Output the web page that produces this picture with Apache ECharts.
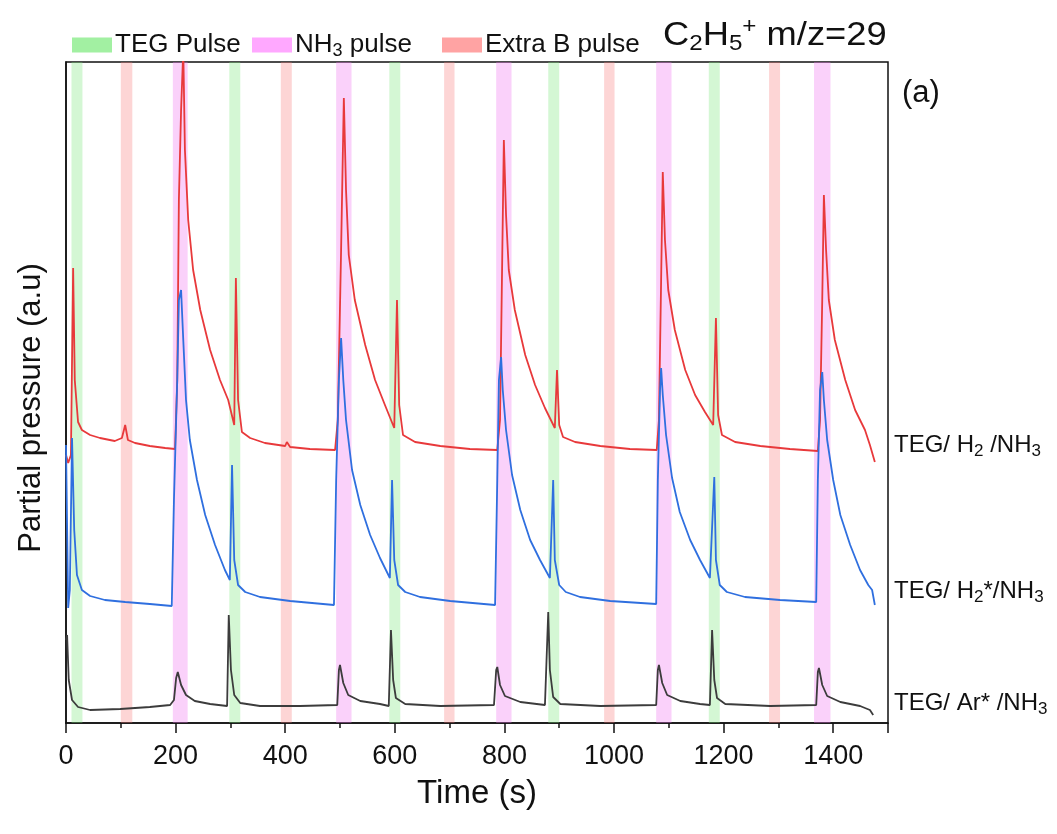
<!DOCTYPE html>
<html>
<head>
<meta charset="utf-8">
<script src="https://cdn.jsdelivr.net/npm/echarts@6/dist/echarts.min.js"></script>
<style>
html,body{margin:0;padding:0;background:#fff;}
#c{width:1057px;height:834px;}
</style>
</head>
<body>
<div id="c"></div>
<script>
// ---- data (time in s, partial pressure in a.u.) ----
var tegPulses = [[10,30],[298,318],[590,610],[880,900],[1173,1193]];
var nh3Pulses = [[195,222],[493,521],[785,813],[1077,1105],[1365,1395]];
var extraBPulses = [[100,121],[392,412],[690,709],[982,1001],[1283,1303]];
var xTicks = [0,200,400,600,800,1000,1200,1400];

var seriesH2 = [[0,2.68],[4,2.60],[9,2.68],[13,4.55],[16,3.43],[22,3.01],[29,2.93],[44,2.88],[62,2.85],[89,2.82],[102,2.85],[108,2.98],[113,2.83],[126,2.80],[153,2.77],[181,2.75],[199,2.74],[203,3.43],[206,5.23],[210,6.13],[214,6.73],[217,5.73],[223,5.03],[232,4.53],[245,4.13],[263,3.73],[281,3.43],[296,3.23],[307,2.98],[310,4.45],[314,3.23],[321,2.91],[336,2.85],[363,2.80],[400,2.77],[403,2.81],[409,2.76],[445,2.74],[491,2.73],[496,3.03],[502,4.73],[507,6.25],[511,5.33],[516,4.68],[527,4.23],[546,3.78],[564,3.43],[582,3.18],[599,2.95],[604,4.23],[608,3.18],[615,2.88],[637,2.81],[683,2.77],[737,2.74],[787,2.73],[792,3.03],[796,4.63],[799,5.83],[803,5.08],[808,4.53],[819,4.13],[838,3.68],[856,3.38],[874,3.15],[892,2.95],[896,3.53],[900,2.98],[907,2.86],[929,2.81],[975,2.77],[1029,2.74],[1078,2.73],[1082,3.03],[1086,4.43],[1089,5.51],[1093,4.83],[1099,4.33],[1111,3.93],[1130,3.53],[1148,3.28],[1166,3.11],[1181,2.98],[1186,4.05],[1190,3.08],[1197,2.88],[1221,2.81],[1267,2.77],[1321,2.74],[1372,2.72],[1376,3.03],[1380,4.23],[1383,5.28],[1387,4.73],[1392,4.23],[1403,3.83],[1422,3.43],[1440,3.13],[1458,2.93],[1467,2.78],[1476,2.61]];

var seriesH2star = [[0,2.78],[4,1.15],[7,1.33],[11,2.85],[15,1.93],[20,1.48],[29,1.33],[44,1.27],[71,1.23],[108,1.21],[153,1.19],[193,1.17],[197,2.23],[203,3.43],[206,4.23],[210,4.33],[214,3.83],[219,3.23],[226,2.83],[239,2.43],[254,2.08],[272,1.78],[290,1.53],[299,1.43],[303,2.58],[307,1.63],[314,1.38],[327,1.31],[354,1.26],[409,1.22],[489,1.18],[493,2.43],[498,3.43],[502,3.85],[506,3.43],[511,3.03],[522,2.53],[537,2.18],[555,1.88],[573,1.65],[591,1.45],[595,2.43],[599,1.63],[606,1.38],[619,1.31],[646,1.26],[701,1.22],[783,1.18],[787,2.43],[790,3.43],[794,3.66],[797,3.33],[803,2.93],[814,2.48],[829,2.13],[847,1.83],[865,1.63],[883,1.45],[889,2.43],[892,1.63],[900,1.38],[912,1.31],[938,1.26],[993,1.22],[1077,1.19],[1080,2.43],[1084,3.33],[1086,3.55],[1089,3.28],[1095,2.88],[1106,2.45],[1120,2.11],[1139,1.83],[1157,1.63],[1175,1.45],[1183,2.46],[1186,1.63],[1193,1.38],[1206,1.31],[1239,1.26],[1303,1.23],[1369,1.21],[1372,2.43],[1376,3.33],[1380,3.51],[1383,3.23],[1389,2.83],[1400,2.43],[1413,2.08],[1431,1.78],[1449,1.53],[1464,1.38],[1471,1.33],[1476,1.18]];

var seriesAr = [[0,0.83],[2,0.88],[5,0.43],[11,0.23],[22,0.16],[44,0.13],[99,0.14],[153,0.16],[190,0.18],[197,0.23],[201,0.45],[204,0.51],[210,0.38],[219,0.28],[235,0.22],[263,0.19],[294,0.17],[297,1.08],[301,0.53],[307,0.28],[318,0.20],[354,0.17],[427,0.17],[495,0.18],[498,0.53],[500,0.58],[506,0.40],[515,0.28],[537,0.22],[573,0.19],[589,0.17],[593,0.93],[597,0.43],[602,0.25],[619,0.19],[683,0.17],[781,0.18],[785,0.53],[787,0.56],[792,0.38],[801,0.27],[829,0.21],[874,0.18],[880,1.11],[883,0.53],[889,0.26],[902,0.19],[975,0.17],[1077,0.18],[1080,0.53],[1082,0.58],[1088,0.40],[1097,0.28],[1121,0.22],[1157,0.19],[1175,0.18],[1179,0.93],[1183,0.43],[1188,0.25],[1203,0.19],[1285,0.17],[1369,0.18],[1372,0.51],[1374,0.55],[1380,0.38],[1389,0.27],[1413,0.21],[1449,0.17],[1467,0.13],[1473,0.08]];

var FONT = '"Liberation Sans", Arial, sans-serif';

function bands(list){
  return list.map(function(p){ return [{xAxis:p[0]},{xAxis:p[1]}]; });
}

var chart = echarts.init(document.getElementById('c'));
var subRich = {
  t:{fontSize:26, fontFamily:FONT, color:'#111'},
  s:{fontSize:18, fontFamily:FONT, color:'#111', padding:[13,0,0,0]}
};
function legendAt(left, name){
  return {
    left:left, top:27, icon:'rect', itemWidth:40, itemHeight:15, itemGap:0,
    data:[name],
    formatter:function(n){
      if(n==='NH3 pulse') return '{t|NH}{s|3}{t| pulse}';
      return '{t|'+n+'}';
    },
    textStyle:{fontFamily:FONT, fontSize:26, color:'#111', padding:[0,0,0,-2], rich:subRich}
  };
}
function rightLabel(top, text){
  return {type:'text', left:894, top:top, style:{
    text:text, rich:{
      t:{fontFamily:FONT, fontSize:24, fill:'#111', color:'#111'},
      s:{fontFamily:FONT, fontSize:17, fill:'#111', color:'#111', padding:[12,0,0,0]}}}};
}

var option = {
  animation:false,
  backgroundColor:'#fff',
  grid:{left:66, right:169, top:62, bottom:111, show:true, borderColor:'#111', borderWidth:1.5, backgroundColor:'transparent'},
  legend:[legendAt(67,'TEG Pulse'), legendAt(247,'NH3 pulse'), legendAt(437,'Extra B pulse')],
  xAxis:[{
    type:'value', min:0, max:1500, interval:200, position:'bottom',
    name:'Time (s)', nameLocation:'middle', nameGap:54,
    nameTextStyle:{fontFamily:FONT, fontSize:33, color:'#111'},
    axisLine:{lineStyle:{color:'#111', width:1.5}},
    axisTick:{length:10, lineStyle:{color:'#111', width:1.5}},
    axisLabel:{fontFamily:FONT, fontSize:27, color:'#111', margin:20,
      formatter:function(v){ return xTicks.indexOf(v)>=0 ? String(v) : ''; }},
    splitLine:{show:false}
  },{
    type:'value', min:0, max:1500, interval:100, position:'bottom', gridIndex:0,
    axisLine:{show:false}, axisTick:{length:5, lineStyle:{color:'#111', width:1.5}},
    axisLabel:{show:false}, splitLine:{show:false}
  }],
  yAxis:{
    type:'value', min:0, max:6.61,
    axisLine:{show:true, lineStyle:{color:'#111', width:1.5}},
    axisTick:{show:false}, axisLabel:{show:false}, splitLine:{show:false}
  },
  series:[
    {name:'TEG/ H2 /NH3', type:'line', data:seriesH2, showSymbol:false, z:2,
      lineStyle:{color:'#e8393b', width:1.8}, itemStyle:{color:'#e8393b'}},
    {name:'TEG/ H2*/NH3', type:'line', data:seriesH2star, showSymbol:false, z:2,
      lineStyle:{color:'#2f6fdf', width:1.8}, itemStyle:{color:'#2f6fdf'}},
    {name:'TEG/ Ar* /NH3', type:'line', data:seriesAr, showSymbol:false, z:2,
      lineStyle:{color:'#3c3c3c', width:1.8}, itemStyle:{color:'#3c3c3c'}},
    {name:'TEG Pulse', type:'line', data:[], z:5, itemStyle:{color:'#a2f0a2'},
      markArea:{silent:true, itemStyle:{color:'rgba(125,230,125,0.33)'}, data:bands(tegPulses)}},
    {name:'NH3 pulse', type:'line', data:[], z:5, itemStyle:{color:'#ffa8ff'},
      markArea:{silent:true, itemStyle:{color:'rgba(240,120,240,0.34)'}, data:bands(nh3Pulses)}},
    {name:'Extra B pulse', type:'line', data:[], z:5, itemStyle:{color:'#ffa3a3'},
      markArea:{silent:true, itemStyle:{color:'rgba(250,125,125,0.32)'}, data:bands(extraBPulses)}}
  ],
  graphic:[
    {type:'text', left:663, top:16, scaleX:1.1, style:{
      text:'{b|C}{s|2}{b|H}{s|5}{p|+}{b| m/z=29}',
      rich:{
        b:{fontFamily:FONT, fontSize:33, fill:'#111', color:'#111'},
        s:{fontFamily:FONT, fontSize:22, fill:'#111', color:'#111', padding:[17,0,0,0]},
        p:{fontFamily:FONT, fontSize:22, fill:'#111', color:'#111', padding:[0,0,17,0]}
      }}},
    {type:'text', left:902, top:78, style:{text:'(a)', font:'31px '+FONT, fill:'#111'}},
    {type:'text', x:31, y:408, rotation:Math.PI/2, style:{
      text:'Partial pressure (a.u)', font:'31px '+FONT, fill:'#111', align:'center', verticalAlign:'middle'}},
    rightLabel(433, '{t|TEG/ H}{s|2}{t| /NH}{s|3}'),
    rightLabel(579, '{t|TEG/ H}{s|2}{t|*/NH}{s|3}'),
    rightLabel(691, '{t|TEG/ Ar* /NH}{s|3}')
  ]
};
chart.setOption(option);
</script>
</body>
</html>
